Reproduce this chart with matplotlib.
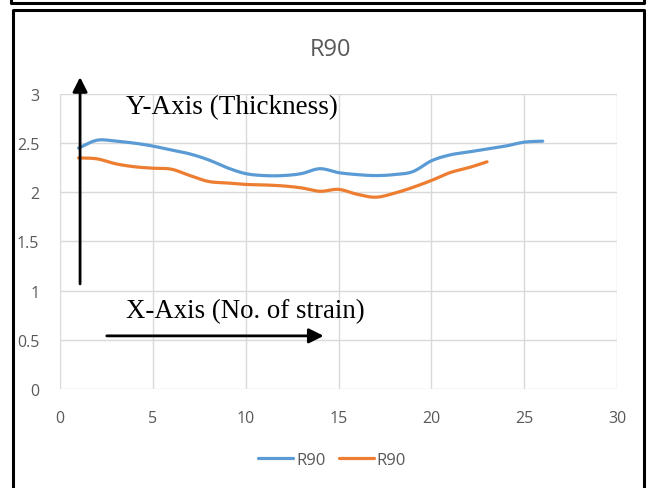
import matplotlib.pyplot as plt
import numpy as np
from matplotlib.lines import Line2D

strain_a = list(range(1, 27))
thick_a = [2.45, 2.53, 2.52, 2.50, 2.47, 2.43, 2.39, 2.33, 2.25, 2.19,
           2.17, 2.17, 2.19, 2.24, 2.20, 2.18, 2.17, 2.18, 2.21, 2.32,
           2.38, 2.41, 2.44, 2.47, 2.51, 2.52]

strain_b = list(range(1, 24))
thick_b = [2.35, 2.34, 2.29, 2.26, 2.245, 2.235, 2.17, 2.11, 2.095, 2.08,
           2.075, 2.065, 2.045, 2.01, 2.03, 1.98, 1.95, 1.99, 2.05, 2.12,
           2.20, 2.25, 2.31]

series_names = ["R90", "R90"]
xticks = [0, 5, 10, 15, 20, 25, 30]
yticks = [0, 0.5, 1, 1.5, 2, 2.5, 3]


def smooth(x, y, n=12):
    # catmull-rom through the points, like a spreadsheet "smoothed line"
    x = np.asarray(x, float)
    y = np.asarray(y, float)
    px = np.concatenate([[2 * x[0] - x[1]], x, [2 * x[-1] - x[-2]]])
    py = np.concatenate([[2 * y[0] - y[1]], y, [2 * y[-1] - y[-2]]])
    xs, ys = [], []
    t = np.linspace(0, 1, n, endpoint=False)
    for i in range(1, len(px) - 2):
        for p, out in ((px, xs), (py, ys)):
            p0, p1, p2, p3 = p[i - 1], p[i], p[i + 1], p[i + 2]
            out.extend(0.5 * ((2 * p1) + (-p0 + p2) * t
                              + (2 * p0 - 5 * p1 + 4 * p2 - p3) * t ** 2
                              + (-p0 + 3 * p1 - 3 * p2 + p3) * t ** 3))
    xs.append(x[-1])
    ys.append(y[-1])
    return xs, ys


fig = plt.figure(figsize=(6.53, 4.89), dpi=100)
ax = fig.add_axes([0.0919, 0.2025, 0.853, 0.6033])

blue = "#5B9BD5"
orange = "#ED7D31"
grey = "#595959"
ui_font = "Open Sans"

ax.plot(*smooth(strain_a, thick_a), color=blue, lw=2.3, label=series_names[0],
        solid_capstyle="round")
ax.plot(*smooth(strain_b, thick_b), color=orange, lw=2.3, label=series_names[1],
        solid_capstyle="round")

ax.set_xlim(0, 30)
ax.set_ylim(0, 3)
ax.set_xticks(xticks)
ax.set_yticks(yticks)
ax.set_xticklabels([str(v) for v in xticks])
ax.set_yticklabels([f"{v:g}" for v in yticks])
ax.grid(True, color="#d9d9d9", lw=1)
ax.set_axisbelow(True)
for s in ax.spines.values():
    s.set_visible(False)
ax.tick_params(length=0, labelcolor=grey, labelsize=11.5)
for lab in ax.get_xticklabels() + ax.get_yticklabels():
    lab.set_fontfamily(ui_font)
ax.tick_params(axis="y", pad=15)
ax.tick_params(axis="x", pad=15)

fig.text(330 / 653, 1 - 50 / 489, "R90", color=grey, fontsize=17,
         family=ui_font, ha="center", va="center")

# hand-drawn axis arrows and captions
ax.annotate("", xy=(1.08, 3.2), xytext=(1.08, 1.04),
            arrowprops=dict(arrowstyle="-|>", lw=2, color="black", mutation_scale=22),
            annotation_clip=False)
ax.annotate("", xy=(14.35, 0.54), xytext=(2.37, 0.54),
            arrowprops=dict(arrowstyle="-|>", lw=2, color="black", mutation_scale=22),
            annotation_clip=False)
ax.text(3.55, 2.87, "Y-Axis (Thickness)", family="Liberation Serif",
        fontsize=19.5, va="center", ha="left")
ax.text(3.55, 0.80, "X-Axis (No. of strain)", family="Liberation Serif",
        fontsize=19.3, va="center", ha="left")

leg = ax.legend(loc="center", bbox_to_anchor=(332 / 653, 1 - 461 / 489),
                bbox_transform=fig.transFigure, ncol=2, frameon=False,
                handlelength=2.1, handletextpad=0.15, columnspacing=0.8,
                prop={"family": ui_font, "size": 12})
for t in leg.get_texts():
    t.set_color(grey)

# outer frames
W, H = 653, 489
def fline(xs, ys):
    fig.add_artist(Line2D([v / W for v in xs], [1 - v / H for v in ys],
                          color="black", lw=2.2, transform=fig.transFigure))

fline([11, 11, 644, 644], [-5, 4, 4, -5])
fline([13, 13, 644, 644, 13], [495, 11, 11, 495, 495])

fig.savefig("out.png", dpi=100)
